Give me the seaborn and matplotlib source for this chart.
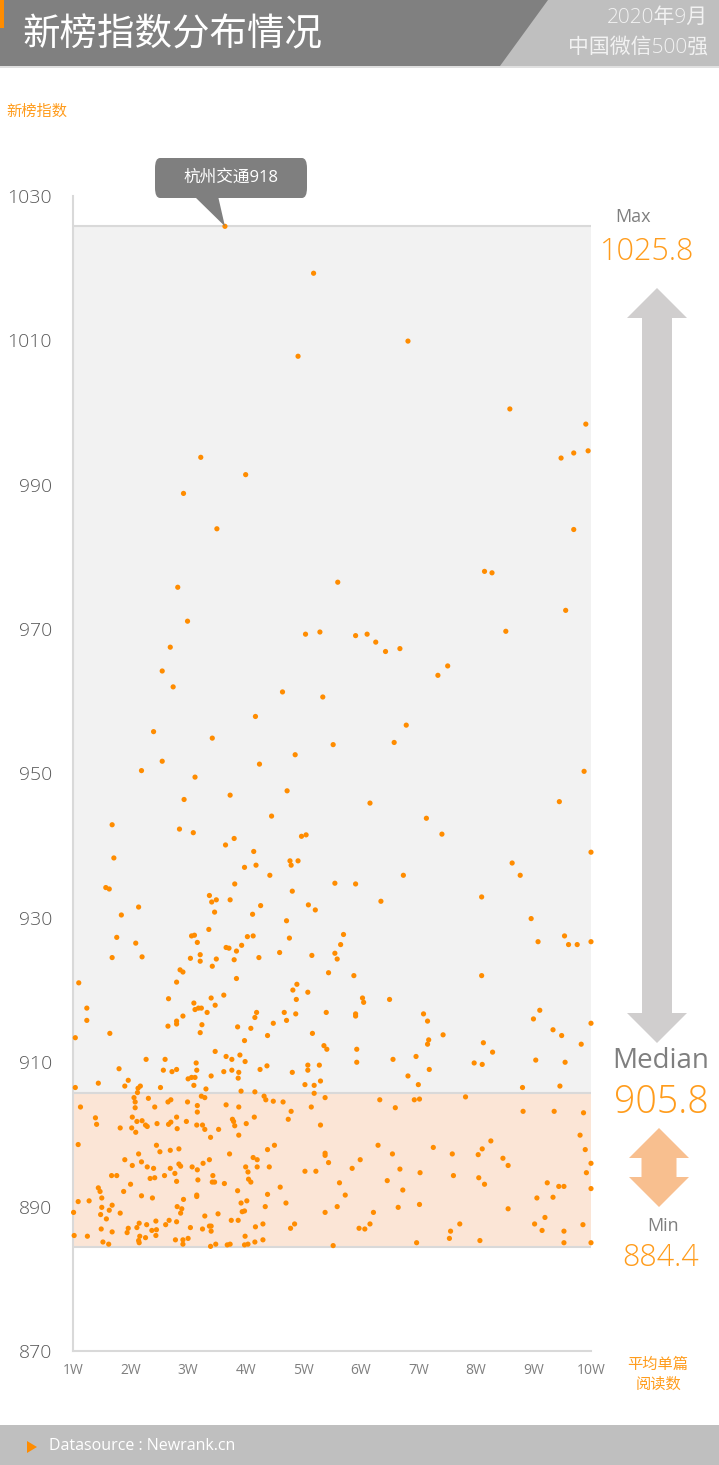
import matplotlib
matplotlib.use('Agg')
import matplotlib.pyplot as plt
import seaborn as sns
import pandas as pd
from matplotlib.patches import Rectangle, Polygon, FancyBboxPatch

# 平均单篇阅读数 (W) 和 新榜指数, 估计值
read_w = [
    3.64, 5.18, 4.91, 3.22, 4.00, 2.92, 3.50,
    6.82, 8.59, 9.91, 9.48, 9.70, 9.95, 9.70,
    2.82, 2.99, 2.69, 2.55, 2.74, 5.04, 5.29, 4.64, 5.34, 4.17, 2.40, 3.42, 4.86, 2.55,
    2.19, 4.24, 3.12, 2.93, 3.73, 4.72, 4.45, 1.68, 2.85, 3.09, 3.80, 3.65, 4.97, 5.05,
    5.60, 8.15, 8.28, 9.56, 5.91, 6.11, 6.26, 6.43, 6.68, 8.52, 7.51, 7.34, 6.79, 5.52,
    6.58, 9.88, 6.16, 9.45, 7.14, 7.41,
    4.14, 1.71, 3.98, 4.18, 4.77, 4.79, 4.91, 4.42, 1.57, 1.63, 3.81, 3.37, 3.41, 3.49,
    3.73, 4.81, 2.14, 1.84, 3.46, 4.12, 4.26, 5.09, 5.21, 4.71, 1.76, 2.09, 3.06, 3.11,
    3.16, 3.36, 4.03, 4.13, 4.76, 1.68, 2.20, 3.04, 3.21, 3.21, 3.49, 3.66, 3.71, 3.84,
    3.93, 3.80, 3.42, 4.23, 4.59, 5.15, 2.86, 2.91, 2.80, 3.84, 5.44, 1.10, 2.66, 3.40,
    3.62, 3.47, 3.10, 3.12, 3.18, 3.23, 3.33, 1.24, 1.24, 2.91, 2.80, 2.80, 2.65, 3.24,
    3.21, 3.86, 4.09, 4.16, 4.19, 4.48, 4.67, 4.71, 4.87, 4.82, 4.89, 4.88, 5.08, 5.40,
    5.16, 1.64, 1.04, 4.38, 3.98, 3.47, 3.66, 3.76, 3.90, 2.27, 2.60, 5.36, 5.41,
    10.0, 8.63, 8.77, 5.55, 5.91, 6.74, 6.35, 8.10, 8.96, 9.54, 9.08, 9.61, 9.76, 10.0,
    5.70, 5.65, 5.55, 5.59, 5.88, 8.10, 6.03, 6.05, 6.50, 5.91, 5.91, 7.09, 7.16, 9.11,
    9.00, 10.0, 9.34, 9.49, 7.43, 7.18, 7.16, 8.13, 8.29, 9.83, 5.93, 6.56, 6.96, 9.04,
    1.80, 3.14, 3.15, 2.57, 2.72, 2.80, 1.96, 1.90, 1.44, 1.04, 2.17, 2.13, 2.12, 2.52,
    3.00, 3.06, 3.12, 3.10, 2.06, 2.08, 2.08, 2.31, 2.42, 2.65, 2.70, 2.99, 3.16, 3.16,
    1.13, 1.39, 1.41, 1.82, 2.03, 2.11, 2.09, 2.02, 2.20, 2.26, 2.29, 2.46, 2.66, 2.70,
    2.81, 2.80, 2.97, 3.15, 1.09, 2.45, 2.51, 2.14, 2.69, 2.84, 1.90, 2.03, 2.19, 2.29,
    2.40, 2.69, 2.84, 2.87, 2.77, 2.59, 3.07, 3.16, 2.34, 2.42, 2.80, 3.17, 1.67, 1.76,
    2.00, 1.44, 1.47, 1.50, 1.88, 2.19, 2.38, 3.15, 1.09, 1.28, 1.01, 1.50, 1.48, 1.63,
    1.68, 1.82, 1.58, 2.81, 2.89, 2.87, 2.92, 2.61, 2.67, 2.80, 2.44, 2.15, 2.11, 2.28,
    2.37, 2.45, 2.44, 1.94, 1.96, 1.68, 1.49, 1.02, 1.25, 2.16, 2.26, 2.14, 2.15, 1.52,
    1.62, 2.78, 2.91, 2.91, 3.00, 3.04,
    3.99, 3.62, 3.76, 3.88, 3.87, 3.40, 4.25, 4.37, 4.81, 5.08, 5.08, 5.28, 5.03, 5.19,
    5.30, 3.31, 3.92, 4.16, 5.19, 3.23, 3.29, 4.32, 4.35, 4.48, 4.65, 3.66, 3.88, 5.14,
    5.38, 4.79, 4.74, 4.15, 3.77, 3.79, 3.81, 4.01, 3.25, 3.29, 3.53, 3.88, 3.39, 5.30,
    4.38, 4.50, 3.72, 4.13, 4.20, 4.20, 4.41, 4.00, 4.04, 3.37, 3.26, 3.43, 3.42, 3.46,
    3.63, 4.05, 4.09, 5.03, 5.22, 5.38, 5.38, 5.44, 4.60, 4.38, 3.86, 3.15, 3.92, 4.02,
    4.34, 4.70, 3.94, 3.98, 3.29, 3.52, 3.75, 3.87, 5.38, 3.37, 3.40, 3.40, 3.25, 4.17,
    4.30, 4.85, 4.78, 3.99, 4.30, 4.16, 4.04, 3.98, 3.73, 3.68, 3.48, 3.39,
    5.93, 7.19, 6.82, 7.00, 6.33, 6.60, 6.93, 7.02, 6.30, 6.55, 7.26, 7.59, 5.99, 5.85,
    6.68, 7.03, 7.61, 6.46, 5.63, 6.73, 5.73, 5.59, 7.02, 6.65, 6.22, 6.16, 5.97, 6.07,
    7.56, 7.54, 6.97, 5.52,
    7.97, 8.11, 9.55, 8.81, 9.46, 7.82, 8.82, 9.36, 9.87, 9.81, 9.90, 8.26, 8.11, 8.04,
    8.47, 8.56, 10.0, 9.92, 8.05, 8.15, 9.24, 9.44, 9.53, 10.0, 9.06, 9.34, 8.56, 7.72,
    9.02, 9.20, 9.15, 9.53, 9.86, 8.07, 9.53, 10.0,
]
new_index = [
    1025.8, 1019.3, 1007.8, 993.8, 991.4, 988.8, 983.9,
    1009.9, 1000.5, 998.4, 993.7, 994.4, 994.7, 983.8,
    975.8, 971.1, 967.5, 964.2, 962.0, 969.3, 969.6, 961.3, 960.6, 957.9, 955.8, 954.9, 952.6, 951.7,
    950.4, 951.3, 949.5, 946.4, 947.0, 947.6, 944.1, 942.9, 942.3, 941.8, 941.0, 940.1, 941.3, 941.5,
    976.5, 978.0, 977.8, 972.6, 969.1, 969.3, 968.2, 966.9, 967.3, 969.7, 964.9, 963.6, 956.7, 954.0,
    954.3, 950.3, 945.9, 946.1, 943.8, 941.6,
    939.2, 938.3, 937.0, 937.3, 937.9, 937.3, 937.9, 935.9, 934.2, 934.0, 934.7, 933.1, 932.2, 932.5,
    932.5, 933.7, 931.5, 930.4, 930.8, 930.5, 931.7, 931.8, 931.1, 929.6, 927.3, 926.5, 927.5, 927.6,
    926.6, 928.4, 927.4, 927.5, 927.2, 924.5, 924.6, 924.4, 924.9, 924.0, 924.3, 925.9, 925.8, 925.4,
    926.2, 924.2, 923.3, 924.5, 925.2, 924.8, 922.8, 922.5, 921.1, 921.6, 922.4, 921.0, 918.8, 918.9,
    919.3, 917.9, 918.2, 917.3, 917.5, 917.5, 916.9, 917.5, 915.8, 916.4, 915.7, 915.3, 915.0, 915.2,
    914.1, 914.9, 914.7, 916.2, 916.9, 915.4, 916.9, 915.8, 916.7, 920.0, 920.8, 918.7, 919.7, 916.9,
    914.0, 914.0, 913.4, 913.7, 913.0, 911.5, 910.8, 910.4, 911.0, 910.4, 910.4, 912.3, 911.8,
    939.1, 937.6, 935.9, 934.8, 934.7, 935.9, 932.3, 932.9, 929.9, 927.5, 926.7, 926.3, 926.3, 926.7,
    927.7, 926.3, 925.1, 924.3, 922.0, 922.0, 918.9, 918.3, 918.7, 916.7, 916.4, 916.7, 915.7, 917.2,
    916.0, 915.4, 914.5, 913.7, 913.8, 913.1, 912.5, 912.7, 911.4, 912.5, 911.8, 910.4, 910.8, 910.3,
    909.1, 909.9, 908.9, 908.9, 908.7, 909.0, 907.5, 906.7, 907.1, 906.5, 906.7, 906.4, 905.8, 906.5,
    907.7, 907.9, 907.9, 906.8, 905.1, 904.5, 903.7, 905.0, 903.8, 904.5, 904.8, 904.5, 904.0, 903.1,
    903.8, 902.3, 901.4, 900.9, 902.4, 901.8, 900.3, 900.9, 901.9, 901.3, 901.1, 901.5, 901.4, 901.7,
    900.8, 902.4, 901.8, 901.3, 898.6, 898.5, 897.6, 897.3, 897.8, 898.0, 896.5, 895.7, 896.2, 895.5,
    895.3, 895.3, 895.9, 895.6, 894.6, 894.3, 895.5, 895.1, 893.9, 894.0, 893.5, 893.7, 894.3, 894.3,
    893.1, 892.6, 892.1, 891.2, 892.1, 891.5, 891.2, 891.6, 890.7, 890.8, 889.2, 889.9, 888.9, 889.5,
    890.2, 889.1, 888.3, 890.0, 889.7, 889.1, 891.0, 887.5, 888.1, 887.9, 888.0, 887.7, 887.1, 887.5,
    886.7, 886.8, 886.0, 886.4, 887.0, 886.5, 886.9, 886.0, 885.9, 885.9, 885.7, 885.3, 885.0, 885.1,
    884.8, 885.4, 885.4, 884.8, 885.6, 887.1,
    910.1, 908.7, 908.9, 908.6, 907.8, 908.1, 909.0, 909.5, 908.6, 909.6, 908.9, 909.6, 906.9, 906.8,
    907.4, 906.3, 906.0, 905.9, 905.7, 905.3, 905.1, 905.3, 904.8, 904.6, 904.5, 904.1, 903.8, 903.8,
    905.1, 903.2, 902.1, 902.4, 902.1, 901.8, 901.2, 901.5, 901.3, 900.7, 900.7, 899.9, 899.6, 901.3,
    897.9, 898.5, 897.3, 896.8, 896.5, 895.5, 895.5, 895.5, 894.8, 896.5, 896.0, 894.3, 893.4, 893.4,
    893.2, 893.8, 893.4, 894.9, 894.9, 897.4, 897.1, 896.1, 892.7, 891.7, 892.2, 891.4, 890.5, 890.8,
    890.0, 890.5, 889.3, 889.4, 888.7, 889.0, 888.1, 888.1, 889.2, 887.3, 887.3, 886.6, 886.9, 887.2,
    887.6, 887.6, 887.0, 885.9, 885.4, 885.1, 884.8, 884.7, 884.8, 884.7, 884.8, 884.5,
    910.0, 909.0, 908.1, 906.9, 904.8, 903.7, 904.8, 904.9, 898.5, 897.3, 898.2, 897.3, 896.5, 895.3,
    895.2, 894.7, 894.3, 893.6, 893.3, 892.3, 891.6, 890.0, 890.3, 889.9, 889.2, 887.6, 887.0, 886.9,
    886.6, 885.6, 885.0, 884.6,
    909.9, 909.7, 910.0, 906.5, 906.7, 905.2, 903.2, 903.2, 903.0, 899.9, 897.9, 899.1, 898.0, 897.2,
    896.7, 895.7, 896.0, 894.7, 894.0, 893.1, 893.3, 892.8, 892.8, 892.5, 891.2, 891.3, 889.7, 887.6,
    887.6, 888.5, 886.7, 886.6, 887.5, 885.3, 885.0, 885.0,
]

stat_max = 1025.8
stat_median = 905.8
stat_min = 884.4
top_name = '杭州交通918'
x_ticks = list(range(1, 11))
x_labels = [f'{i}W' for i in x_ticks]
y_ticks = list(range(870, 1031, 20))

df = pd.DataFrame({'read_w': read_w, 'index': new_index})

W, H = 719, 1465
ORANGE = '#ff8c00'
ORANGE_TXT = '#ff9c1c'
GRAY_TXT = '#7f7f7f'

sns.set_style('white')
plt.rcParams['font.family'] = ['Open Sans', 'Noto Sans CJK SC', 'DejaVu Sans']


def px(x, y):
    # 像素坐标 -> figure 坐标
    return (x / W, 1 - y / H)


def double_arrow(xc, ytop, ybot, sw, hw, hl, color):
    pts = [(xc, ytop), (xc + hw / 2, ytop + hl), (xc + sw / 2, ytop + hl),
           (xc + sw / 2, ybot - hl), (xc + hw / 2, ybot - hl), (xc, ybot),
           (xc - hw / 2, ybot - hl), (xc - sw / 2, ybot - hl),
           (xc - sw / 2, ytop + hl), (xc - hw / 2, ytop + hl)]
    return Polygon([px(*p) for p in pts], closed=True, transform=fig.transFigure,
                   fc=color, ec='none')


fig = plt.figure(figsize=(W / 100, H / 100), dpi=100)
fig.patch.set_facecolor('white')

# header
fig.patches.append(Rectangle(px(0, 66), 1, 66 / H, transform=fig.transFigure, fc='#808080', ec='none'))
fig.patches.append(Polygon([px(500, 66), px(548, 0), px(719, 0), px(719, 66)], closed=True,
                           transform=fig.transFigure, fc='#bfbfbf', ec='none'))
fig.patches.append(Rectangle(px(0, 28), 4 / W, 28 / H, transform=fig.transFigure, fc='#ff8c00', ec='none'))
fig.patches.append(Rectangle(px(0, 68), 1, 2 / H, transform=fig.transFigure, fc='#e0e0e0', ec='none'))
fig.text(*px(22, 35), '新榜指数分布情况', color='white', fontsize=27, ha='left', va='center', weight='light')
fig.text(*px(708, 18), '2020年9月', color='#f2f2f2', fontsize=15, ha='right', va='center', weight='light')
fig.text(*px(708, 48), '中国微信500强', color='#f2f2f2', fontsize=15, ha='right', va='center', weight='light')
fig.text(*px(6, 112), '新榜指数', color=ORANGE_TXT, fontsize=11, ha='left', va='center')

# footer
fig.patches.append(Rectangle(px(0, H), 1, 40 / H, transform=fig.transFigure, fc='#bfbfbf', ec='none'))
fig.patches.append(Polygon([px(27, 1441), px(27, 1453), px(37, 1447)], closed=True,
                           transform=fig.transFigure, fc=ORANGE, ec='none'))
fig.text(*px(49, 1446), 'Datasource : Newrank.cn', color='white', fontsize=11.5, ha='left', va='center')

ax = fig.add_axes([73 / W, 1 - 1351 / H, 518 / W, 1155 / H])
ax.set_xlim(1, 10)
ax.set_ylim(870, 1030)

ax.fill_between([1, 10], stat_median, stat_max, color='#f2f2f2', lw=0, zorder=0)
ax.fill_between([1, 10], stat_min, stat_median, color='#fbe5d6', lw=0, zorder=0)
ax.hlines([stat_max, stat_median, stat_min], 1, 10, color='#d9d9d9', lw=1.5, zorder=1)

sns.scatterplot(data=df, x='read_w', y='index', ax=ax, color=ORANGE, s=14,
                edgecolor='none', linewidth=0, zorder=3, clip_on=False)

ax.set_xticks(x_ticks)
ax.set_xticklabels(x_labels)
ax.set_yticks(y_ticks)
ax.set_yticklabels([str(v) for v in y_ticks])
ax.tick_params(axis='y', length=0, pad=15, labelsize=14, labelcolor='#595959')
ax.tick_params(axis='x', length=0, pad=9, labelsize=10, labelcolor=GRAY_TXT)
for lab in ax.get_yticklabels():
    lab.set_fontweight('light')
ax.set_xlabel('')
ax.set_ylabel('')
for s in ['top', 'right']:
    ax.spines[s].set_visible(False)
for s in ['left', 'bottom']:
    ax.spines[s].set_color('#d9d9d9')
    ax.spines[s].set_linewidth(1.5)
ax.patch.set_alpha(0)

# callout for the max point
i_max = df['index'].idxmax()
tip_disp = ax.transData.transform((df.loc[i_max, 'read_w'], df.loc[i_max, 'index']))
tip = fig.transFigure.inverted().transform(tip_disp)
fig.patches.append(Polygon([px(194, 196), px(218, 196), tuple(tip)], closed=True,
                           transform=fig.transFigure, fc='#7f7f7f', ec='none', zorder=2))
bx, by = px(155, 198)
fig.patches.append(FancyBboxPatch((bx, by), 152 / W, 40 / H, boxstyle='round,pad=0,rounding_size=0.007',
                                  transform=fig.transFigure, fc='#7f7f7f', ec='none'))
fig.text(*px(231, 178), top_name, color='white', fontsize=12, ha='center', va='center')

# right-side summary
fig.patches.append(double_arrow(657, 288, 1043, 30, 60, 30, '#d0cece'))
fig.patches.append(double_arrow(659, 1128, 1207, 35, 60, 30, '#f8bf8f'))
fig.text(*px(633, 217), 'Max', color=GRAY_TXT, fontsize=13, ha='center', va='center')
fig.text(*px(647, 252), f'{stat_max}', color=ORANGE_TXT, fontsize=22, ha='center', va='center', weight='light')
fig.text(*px(661, 1061), 'Median', color=GRAY_TXT, fontsize=20, ha='center', va='center')
fig.text(*px(661, 1103), f'{stat_median}', color=ORANGE_TXT, fontsize=27, ha='center', va='center', weight='light')
fig.text(*px(663, 1226), 'Min', color=GRAY_TXT, fontsize=13, ha='center', va='center')
fig.text(*px(661, 1258), f'{stat_min}', color=ORANGE_TXT, fontsize=22, ha='center', va='center', weight='light')
fig.text(*px(658, 1365), '平均单篇', color=ORANGE_TXT, fontsize=11, ha='center', va='center')
fig.text(*px(658, 1385), '阅读数', color=ORANGE_TXT, fontsize=11, ha='center', va='center')

fig.savefig('out.png', dpi=100)
